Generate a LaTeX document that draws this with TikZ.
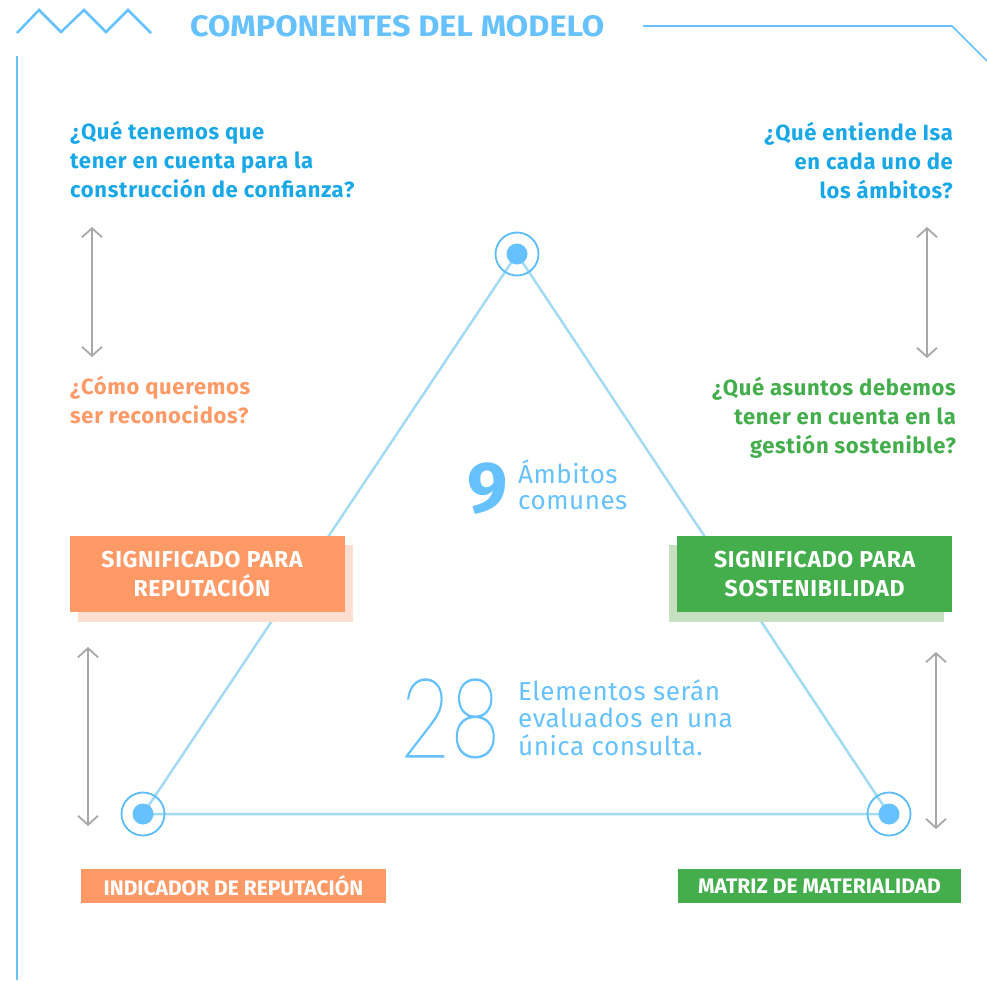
\documentclass[tikz,border=0pt]{standalone}
\usepackage{fontspec}
\setmainfont{Fira Sans}
\IfFontExistsTF{Lato Thin}{\newfontfamily\thinfont{Lato Thin}[FakeBold=1.2]}{%
  \IfFontExistsTF{Lato Hairline}{\newfontfamily\thinfont{Lato Hairline}[FakeBold=1.2]}{\newfontfamily\thinfont{Fira Sans}}}
\usetikzlibrary{arrows.meta}
\definecolor{skyblue}{RGB}{102,194,255}
\definecolor{qblue}{RGB}{24,168,232}
\definecolor{orng}{RGB}{255,153,102}
\definecolor{orngshadow}{RGB}{255,221,207}
\definecolor{grn}{RGB}{67,174,75}
\definecolor{grnshadow}{RGB}{199,224,194}
\definecolor{arrowgrey}{RGB}{168,168,170}
\definecolor{triline}{RGB}{163,219,245}
\definecolor{ringblue}{RGB}{91,189,250}
\begin{document}
\begin{tikzpicture}[x=1pt,y=-1pt,
  question/.style={inner sep=0pt, font=\fontsize{22}{28.7}\selectfont\bfseries\addfontfeatures{LetterSpace=3}},
  bignote/.style={inner sep=0pt, text=skyblue, align=left, anchor=base west},
  boxfont/.style={font=\fontsize{23}{29}\selectfont\bfseries\addfontfeatures{LetterSpace=3}},
  mainbox/.style={inner sep=0pt, anchor=north west, text=white, align=center, boxfont,
     minimum width=275pt, minimum height=76pt},
  shadowbox/.style={inner sep=0pt, anchor=north west, minimum width=275pt, minimum height=77pt},
  tagbox/.style={inner sep=0pt, text=white, font=\fontsize{21}{24}\selectfont\bfseries, minimum height=34pt},
  ring/.style={circle, draw=ringblue, line width=1.8pt, minimum size=43pt, inner sep=0pt},
  dot/.style={circle, fill=skyblue, minimum size=21pt, inner sep=0pt},
  triedge/.style={triline, line width=2.5pt},
  updown/.style={arrowgrey, line width=1.8pt, {Straight Barb[length=9pt,width=20pt]}-{Straight Barb[length=9pt,width=20pt]}},
  notefont/.style={font=\fontsize{26}{#1}\selectfont\addfontfeatures{LetterSpace=2}},
]
\useasboundingbox (0,0) rectangle (987,980);
\fill[white] (0,0) rectangle (987,980);

% header decorations
\draw[skyblue, line width=2.5pt, line join=miter] (17,33) -- (39,10) -- (61,32) -- (84,10) -- (106,32) -- (128,10) -- (151,33);
\draw[skyblue, line width=1.6pt] (643,26) -- (952,26) -- (987,61);
\draw[skyblue, line width=2pt] (17,56) -- (17,980);
\node[inner sep=0pt, anchor=base west, text=skyblue] (title) at (190,36)
  {\resizebox{414pt}{21pt}{\bfseries COMPONENTES DEL MODELO}};

% questions (anchor = baseline of the last line)
\node[question, text=qblue, anchor=base west, align=left] (q1) at (70,197)
  {¿Qué tenemos que\\tener en cuenta para la\\construcción de confianza?};
\node[question, text=orng, anchor=base west, align=left] (q2) at (70,423)
  {¿Cómo queremos\\ser reconocidos?};
\node[question, text=qblue, anchor=base east, align=right] (q3) at (953,198)
  {¿Qué entiende Isa\\en cada uno de\\los ámbitos?};
\node[question, text=grn, anchor=base east, align=right] (q4) at (956,453)
  {¿Qué asuntos debemos\\tener en cuenta en la\\gestión sostenible?};

% triangle
\coordinate (ptop) at (517,254);
\coordinate (pleft) at (143,814);
\coordinate (pright) at (889,814);
\draw[triedge] (ptop) -- (pleft) -- (pright) -- cycle;

% boxes
\node[shadowbox, fill=orngshadow] (repshadow) at (78,545) {};
\node[mainbox, fill=orng] (reptbox) at (70,536) {};
\node[inner sep=0pt, text=white, align=center, boxfont] (repttext) at (202,574) {SIGNIFICADO PARA\\REPUTACIÓN};
\node[shadowbox, fill=grnshadow] (sosshadow) at (669,545) {};
\node[mainbox, fill=grn] (sosbox) at (677,536) {SIGNIFICADO PARA\\SOSTENIBILIDAD};

\node[tagbox, fill=orng, minimum width=305pt] (indrep) at (233.5,886) {INDICADOR DE REPUTACIÓN};
\node[tagbox, fill=grn, minimum width=283pt] (matmat) at (819.5,886) {MATRIZ DE MATERIALIDAD};

% vertices
\node[ring] (topring) at (ptop) {};
\node[dot] (topdot) at (ptop) {};
\node[ring] (leftring) at (pleft) {};
\node[dot] (leftdot) at (pleft) {};
\node[ring] (rightring) at (pright) {};
\node[dot] (rightdot) at (pright) {};

% grey arrows
\coordinate (a1s) at (92,227);  \coordinate (a1e) at (92,357);
\coordinate (a2s) at (927,227); \coordinate (a2e) at (927,358);
\coordinate (a3s) at (88,647);  \coordinate (a3e) at (88,826);
\coordinate (a4s) at (936,652); \coordinate (a4e) at (936,829);
\draw[updown] (a1s) -- (a1e);
\draw[updown] (a2s) -- (a2e);
\draw[updown] (a3s) -- (a3e);
\draw[updown] (a4s) -- (a4e);

% central figures
\node[bignote, font=\fontsize{72}{72}\selectfont\bfseries] (nine) at (467,512) {9};
\node[bignote, notefont=26] (ambitos) at (518,509) {Ámbitos\\comunes};
\node[bignote, font=\thinfont] (twentyeight) at (400,757) {\resizebox{100pt}{78pt}{28}};
\node[bignote, notefont=27.5] (elementos) at (518,755) {Elementos serán\\evaluados en una\\única consulta.};
\end{tikzpicture}
\end{document}
